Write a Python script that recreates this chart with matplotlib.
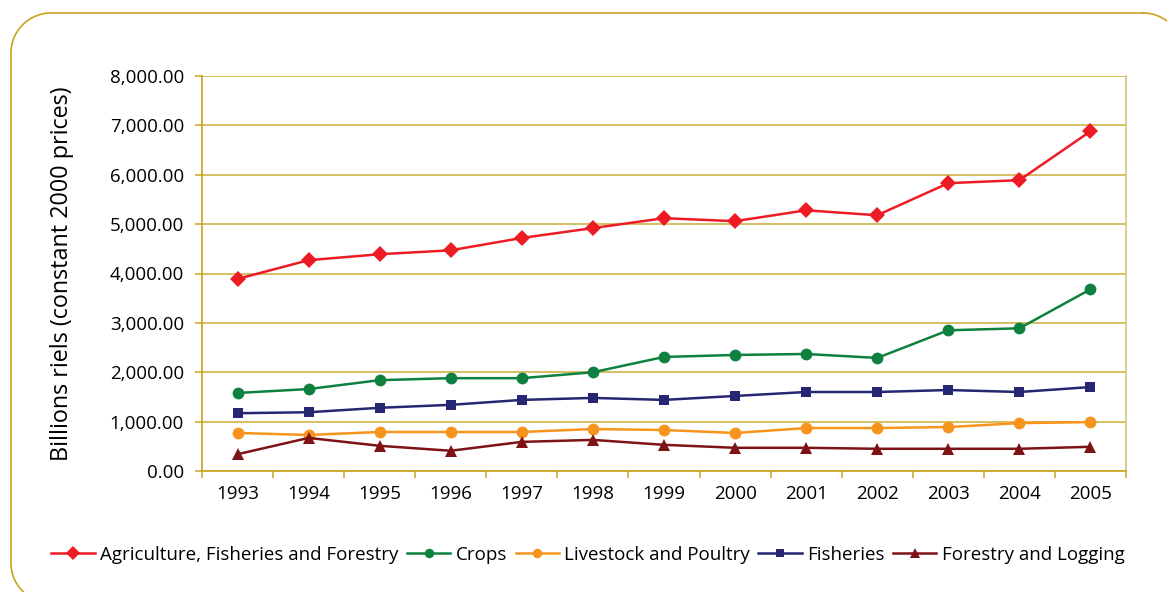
import numpy as np
import matplotlib
matplotlib.use('Agg')
import matplotlib.pyplot as plt
from matplotlib.lines import Line2D
from matplotlib.ticker import FuncFormatter, FixedLocator

# Data (billions riels, constant 2000 prices)
years = [1993, 1994, 1995, 1996, 1997, 1998, 1999, 2000, 2001, 2002, 2003, 2004, 2005]
agri = [3890, 4270, 4390, 4470, 4720, 4920, 5120, 5060, 5280, 5180, 5830, 5890, 6880]
crops = [1580, 1660, 1840, 1880, 1880, 2000, 2310, 2350, 2370, 2290, 2850, 2890, 3680]
livestock = [770, 730, 790, 790, 790, 850, 830, 770, 870, 870, 890, 970, 990]
fisheries = [1170, 1190, 1280, 1340, 1440, 1480, 1440, 1520, 1600, 1600, 1640, 1600, 1700]
forestry = [340, 670, 510, 410, 590, 630, 530, 470, 470, 450, 450, 450, 490]

series_names = ['Agriculture, Fisheries and Forestry', 'Crops', 'Livestock and Poultry',
                'Fisheries', 'Forestry and Logging']

GOLD = '#C9A31E'
FONT = 'Open Sans'

plt.rcParams['font.family'] = [FONT, 'DejaVu Sans']

fig = plt.figure(figsize=(11.67, 5.92), dpi=100)
W, H = 1167, 592


def rounded_rect(x0, y0, x1, y1, r, n=30):
    # pixel box (y measured from the top), returned as figure fractions
    pts = []
    corners = [(x1 - r, y0 + r, -90, 0), (x1 - r, y1 - r, 0, 90),
               (x0 + r, y1 - r, 90, 180), (x0 + r, y0 + r, 180, 270)]
    for cx, cy, a0, a1 in corners:
        t = np.radians(np.linspace(a0, a1, n))
        pts += list(zip(cx + r * np.cos(t), cy + r * np.sin(t)))
    pts.append(pts[0])
    xs = np.array([p[0] for p in pts]) / W
    ys = 1 - np.array([p[1] for p in pts]) / H
    return xs, ys


# rounded border around the chart, running off the right and bottom edges
bx, by = rounded_rect(11, 13, 1183, 603, 40)
fig.add_artist(Line2D(bx, by, color=GOLD, lw=1.2, transform=fig.transFigure))

ax = fig.add_axes([202 / W, (592 - 471) / H, 924 / W, 395 / H])

lines = [
    (agri, '#ED1C24', 'D', 8.5),
    (crops, '#0E8140', 'o', 8.5),
    (livestock, '#F7941D', 'o', 8.5),
    (fisheries, '#262673', 's', 7.5),
    (forestry, '#7D1315', '^', 8.5),
]
for (vals, color, mk, ms), name in zip(lines, series_names):
    ax.plot(years, vals, color=color, lw=1.8, marker=mk, markersize=ms,
            markeredgewidth=0, label=name, zorder=3)

ax.set_xlim(1992.5, 2005.5)
ax.set_ylim(0, 8000)

ax.set_yticks(range(0, 8001, 1000))
ax.yaxis.set_major_formatter(FuncFormatter(lambda v, p: f'{v:,.2f}'))
ax.grid(axis='y', color=GOLD, lw=1.1, alpha=0.9, zorder=0)

ax.set_xticks(years)
ax.set_xticklabels([str(y) for y in years])
ax.xaxis.set_minor_locator(FixedLocator([y + 0.5 for y in range(1992, 2006)]))
ax.tick_params(axis='x', which='major', length=0, pad=10, labelsize=13.5)
ax.tick_params(axis='x', which='minor', length=5, color=GOLD, width=1.1,
               direction='out')
ax.tick_params(axis='y', length=5, color=GOLD, width=1.1, labelsize=13.5, pad=8)

for side in ['left', 'bottom']:
    ax.spines[side].set_color(GOLD)
    ax.spines[side].set_linewidth(1.2)
ax.spines['right'].set_color('#D9C27A')
ax.spines['right'].set_linewidth(1.2)
ax.spines['top'].set_visible(False)

fig.text(62 / W, (592 - 274) / H, 'Billions riels (constant 2000 prices)',
         rotation=90, ha='center', va='center', fontsize=16.8)

fig.legend(loc='center', bbox_to_anchor=(588 / W, (592 - 555) / H), ncol=5,
           frameon=False, fontsize=13.5, handlelength=2.3, handletextpad=0.3,
           columnspacing=0.45, borderaxespad=0, markerscale=0.8)

fig.savefig('out.png', dpi=100, facecolor='white')
